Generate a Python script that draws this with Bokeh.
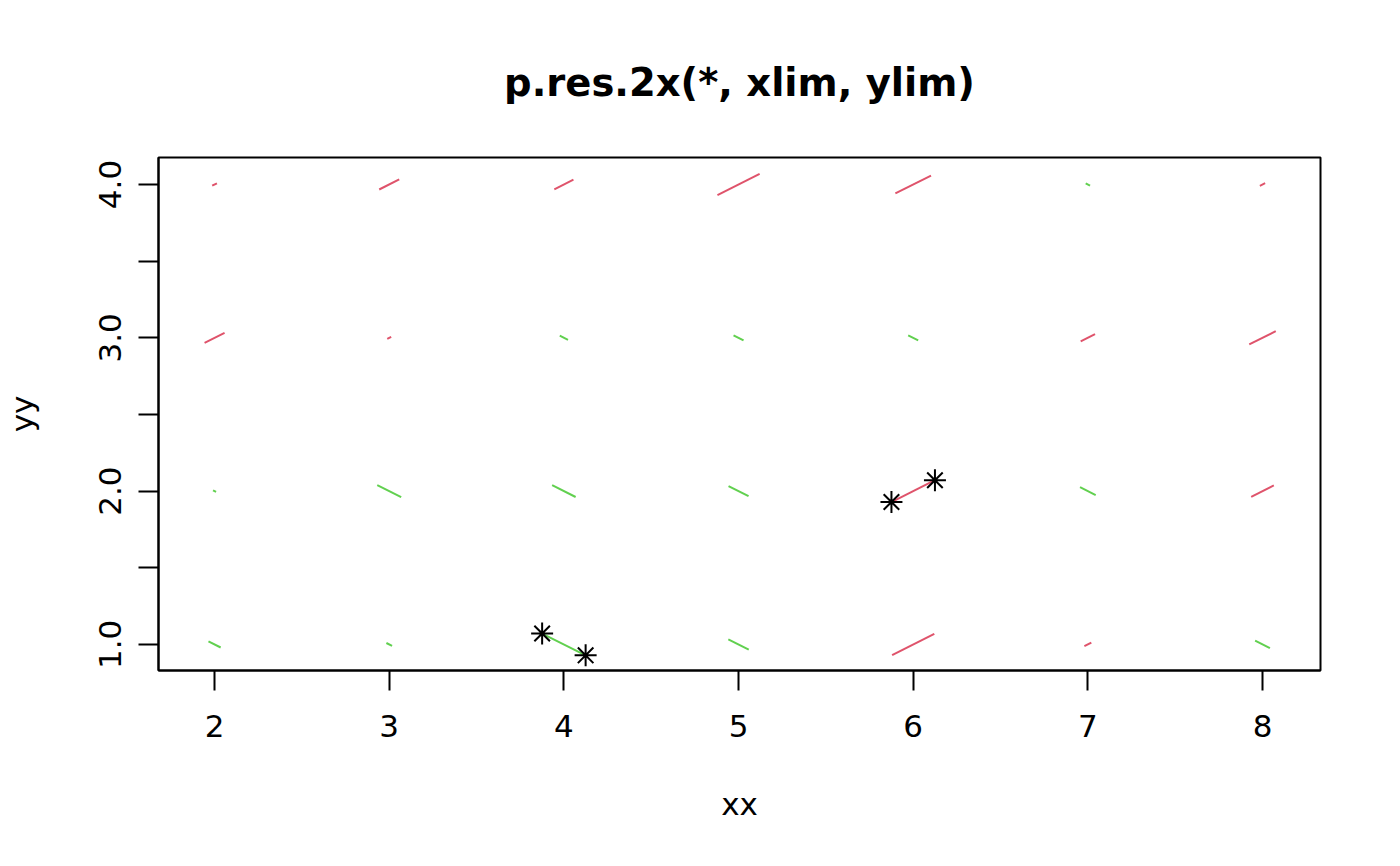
import numpy as np
from bokeh.plotting import figure
from bokeh.models import ColumnDataSource, FixedTicker, Range1d
from bokeh.embed import file_html
from bokeh.resources import INLINE

# ---- data ----
xx_vals = [2, 3, 4, 5, 6, 7, 8]
yy_vals = [1, 2, 3, 4]
# standardized residuals, one row per yy value (left to right over xx)
res_y1 = [-0.28, -0.13, -1.15, -0.47, 0.97, 0.16, -0.34]
res_y2 = [-0.07, -0.55, -0.54, -0.46, 1.12, -0.36, 0.52]
res_y3 = [0.46, 0.09, -0.19, -0.23, -0.23, 0.33, 0.61]
res_y4 = [0.11, 0.46, 0.44, 0.97, 0.82, -0.10, 0.12]
restricted = 1.0
x_ticks = [2, 3, 4, 5, 6, 7, 8]
y_ticks = [1.0, 1.5, 2.0, 2.5, 3.0, 3.5, 4.0]
y_tick_labels = {1.0: "1.0", 1.5: "", 2.0: "2.0", 2.5: "", 3.0: "3.0", 3.5: "", 4.0: "4.0"}

RED = "#DF536B"
GREEN = "#61D04F"
FX = 0.1245   # half segment extent in x per unit residual
FY = 0.0712   # half segment extent in y per unit residual

rows = [res_y1, res_y2, res_y3, res_y4]
X, Y, Z = [], [], []
for yv, row in zip(yy_vals, rows):
    for xv, zv in zip(xx_vals, row):
        X.append(xv); Y.append(yv); Z.append(zv)
X = np.array(X, float); Y = np.array(Y, float); Z = np.array(Z, float)
Zc = np.clip(Z, -restricted, restricted)
A = np.abs(Zc)
cols = [RED if z > 0 else GREEN for z in Z]
x0 = X - FX * A; x1 = X + FX * A
y0 = Y - FY * Zc; y1 = Y + FY * Zc
src = ColumnDataSource(dict(x0=x0, y0=y0, x1=x1, y1=y1, c=cols))

trunc = np.abs(Z) > restricted
sx = np.concatenate([x0[trunc], x1[trunc]])
sy = np.concatenate([y0[trunc], y1[trunc]])

p = figure(width=1384, height=850, output_backend="svg", toolbar_location=None,
           x_range=Range1d(1.679, 8.332), y_range=Range1d(0.830, 4.176),
           min_border_left=158, min_border_right=64, min_border_top=157, min_border_bottom=180)
p.title.text = "p.res.2x(*, xlim, ylim)"
p.title.align = "center"
p.title.text_font = "DejaVu Sans"
p.title.text_font_size = "38.5px"
p.title.text_font_style = "bold"
p.title.text_color = "black"
p.title.standoff = 106

p.segment("x0", "y0", "x1", "y1", source=src, line_color="c", line_width=2)
p.scatter(sx, sy, marker="asterisk", size=22, line_color="black", line_width=2)

p.xgrid.visible = False
p.ygrid.visible = False
p.outline_line_color = "black"
p.outline_line_width = 2
p.background_fill_color = "white"
p.border_fill_color = "white"

for ax in (p.xaxis[0], p.yaxis[0]):
    ax.major_tick_out = 20
    ax.major_tick_in = 0
    ax.minor_tick_out = 0
    ax.minor_tick_in = 0
    ax.major_tick_line_width = 2
    ax.major_tick_line_color = "black"
    ax.axis_line_color = "black"
    ax.axis_line_width = 2
    ax.major_label_text_font = "DejaVu Sans"
    ax.major_label_text_font_size = "31px"
    ax.major_label_text_color = "black"
    ax.axis_label_text_font = "DejaVu Sans"
    ax.axis_label_text_font_size = "31px"
    ax.axis_label_text_font_style = "normal"
    ax.axis_label_text_color = "black"

p.xaxis.major_label_standoff = 24
p.xaxis.axis_label_standoff = 46
p.yaxis.major_label_standoff = 17
p.yaxis.axis_label_standoff = 57

p.xaxis.ticker = FixedTicker(ticks=x_ticks)
p.yaxis.ticker = FixedTicker(ticks=y_ticks)
p.yaxis.major_label_overrides = y_tick_labels
p.yaxis.major_label_orientation = "vertical"
p.xaxis.axis_label = "xx"
p.yaxis.axis_label = "yy"

open("out.html", "w").write(file_html(p, INLINE))
